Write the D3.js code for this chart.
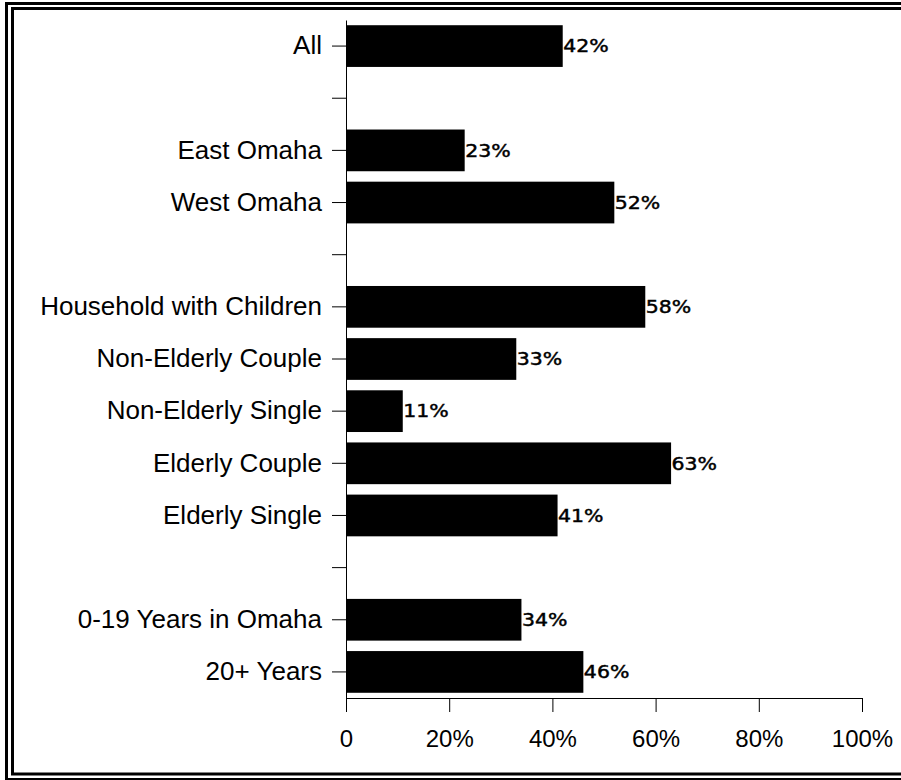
<!DOCTYPE html>
<html>
<head>
<meta charset="utf-8">
<script src="https://cdn.jsdelivr.net/npm/d3@7"></script>
<style>
  html, body { margin: 0; padding: 0; background: #fff; }
  svg { display: block; }
</style>
</head>
<body>
<svg id="chart" width="901" height="780"></svg>
<script>
// Data
const categories = ["All", "gap1", "East Omaha", "West Omaha", "gap2",
  "Household with Children", "Non-Elderly Couple", "Non-Elderly Single",
  "Elderly Couple", "Elderly Single", "gap3", "0-19 Years in Omaha", "20+ Years"];
const values = [0.42, null, 0.23, 0.52, null, 0.58, 0.33, 0.11, 0.63, 0.41, null, 0.34, 0.46];
const xTicks = [0, 0.2, 0.4, 0.6, 0.8, 1.0];

const svg = d3.select("#chart");

// Double border frame
svg.append("rect").attr("x", 6.5).attr("y", 3.5).attr("width", 1000).attr("height", 776)
  .attr("fill", "none").attr("stroke", "#000").attr("stroke-width", 3);
svg.append("rect").attr("x", 12.5).attr("y", 8.5).attr("width", 1000).attr("height", 765.5)
  .attr("fill", "none").attr("stroke", "#000").attr("stroke-width", 3);

const x = d3.scaleLinear().domain([0, 1]).range([346, 862]);
const y = d3.scaleBand().domain(categories).range([20, 698]).paddingInner(0.2).paddingOuter(0.1);

const data = categories.map((c, i) => ({ c, v: values[i] })).filter(d => d.v !== null);

// Bars
svg.append("g").selectAll("rect").data(data).join("rect")
  .attr("x", x(0))
  .attr("y", d => y(d.c))
  .attr("width", d => x(d.v) - x(0))
  .attr("height", y.bandwidth())
  .attr("fill", "#000");

// Value labels (wide, medium-weight)
svg.append("g").selectAll("text").data(data).join("text")
  .attr("transform", d => `translate(${x(d.v) + 0.5},${y(d.c) + y.bandwidth() / 2}) scale(1.17,1)`)
  .attr("dy", "0.36em")
  .attr("font-family", "DejaVu Sans")
  .attr("font-size", 17.5)
  .attr("fill", "#000")
  .attr("stroke", "#000")
  .attr("stroke-width", 0.45)
  .text(d => Math.round(d.v * 100) + "%");

// Y axis
const yAxis = d3.axisLeft(y).tickSize(14).tickSizeOuter(0).tickPadding(10)
  .tickFormat(d => d.startsWith("gap") ? "" : d);
const gy = svg.append("g").attr("transform", `translate(${x(0)},0)`).call(yAxis);
gy.selectAll("text").attr("font-family", "Liberation Sans, Arial, sans-serif")
  .attr("font-size", 26).attr("fill", "#000");
gy.selectAll("line, path").attr("stroke", "#000");

// X axis
const xAxis = d3.axisBottom(x).tickValues(xTicks).tickSize(14).tickSizeOuter(0).tickPadding(18)
  .tickFormat(d => d === 0 ? "0" : d3.format(".0%")(d));
const gx = svg.append("g").attr("transform", `translate(0,698)`).call(xAxis);
gx.selectAll("text").attr("font-family", "Liberation Sans, Arial, sans-serif")
  .attr("font-size", 24).attr("fill", "#000");
gx.selectAll("line, path").attr("stroke", "#000");
</script>
</body>
</html>
